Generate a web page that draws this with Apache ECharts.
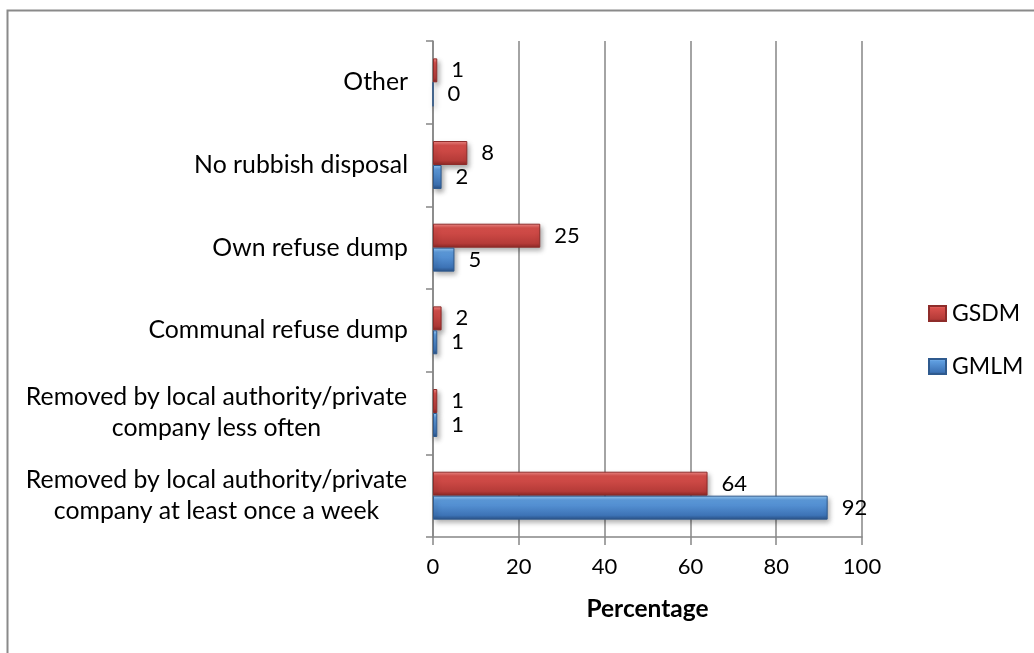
<!DOCTYPE html>
<html>
<head>
<meta charset="utf-8">
<title>Refuse disposal</title>
<script src="https://cdn.jsdelivr.net/npm/echarts@6/dist/echarts.min.js"></script>
<style>
  html, body { margin: 0; padding: 0; background: #fff; }
  #chart { width: 1034px; height: 653px; }
</style>
</head>
<body>
<div id="chart"></div>
<script>
// Categories listed bottom to top (category axis runs upward)
const categories = [
  'Removed by local authority/private\ncompany at least once a week',
  'Removed by local authority/private\ncompany less often',
  'Communal refuse dump',
  'Own refuse dump',
  'No rubbish disposal',
  'Other'
];
const gsdmValues = [64, 1, 2, 25, 8, 1];
const gmlmValues = [92, 1, 1, 5, 2, 0];
const xTicks = { min: 0, max: 100, interval: 20 };

const FONT = 'Lato, "Noto Sans", sans-serif';

function bevel(light, mid, dark, edge) {
  return new echarts.graphic.LinearGradient(0, 0, 0, 1, [
    { offset: 0, color: light },
    { offset: 0.18, color: mid },
    { offset: 0.82, color: dark },
    { offset: 1, color: edge }
  ]);
}

const chart = echarts.init(document.getElementById('chart'), null, { renderer: 'canvas' });

const labelStyle = {
  show: true,
  position: 'right',
  distance: 14,
  color: '#000',
  fontFamily: FONT,
  fontSize: 22
};

const shadow = {
  shadowColor: 'rgba(0,0,0,0.35)',
  shadowBlur: 5,
  shadowOffsetX: 2,
  shadowOffsetY: 3
};

chart.setOption({
  backgroundColor: '#fff',
  animation: false,
  graphic: [{
    type: 'rect',
    shape: { x: 7.5, y: 10.5, width: 1100, height: 700 },
    style: { fill: 'none', stroke: '#8a8a8a', lineWidth: 2 },
    silent: true
  }],
  grid: { left: 433, right: 172, top: 41, bottom: 116, containLabel: false },
  legend: {
    orient: 'vertical',
    left: 923,
    top: 297,
    itemWidth: 17,
    itemHeight: 15,
    itemGap: 30,
    icon: 'rect',
    data: ['GSDM', 'GMLM'],
    textStyle: { fontFamily: FONT, fontSize: 23, color: '#000', padding: [0, 0, 0, 1] }
  },
  xAxis: {
    type: 'value',
    min: xTicks.min,
    max: xTicks.max,
    interval: xTicks.interval,
    name: 'Percentage',
    nameLocation: 'middle',
    nameGap: 60,
    nameTextStyle: { fontFamily: FONT, fontSize: 24.5, fontWeight: 'bold', color: '#000' },
    axisLine: { show: true, lineStyle: { color: '#868686', width: 1.5 } },
    axisTick: { show: true, length: 8, lineStyle: { color: '#868686', width: 1.5 } },
    axisLabel: { margin: 19, fontFamily: FONT, fontSize: 22, color: '#000' },
    splitLine: { show: true, lineStyle: { color: '#868686', width: 1.5 } }
  },
  yAxis: {
    type: 'category',
    data: categories,
    axisLine: { show: true, lineStyle: { color: '#868686', width: 1.5 } },
    axisTick: { show: true, length: 7, lineStyle: { color: '#868686', width: 1.5 } },
    axisLabel: {
      margin: 25,
      fontFamily: FONT,
      fontSize: 24.8,
      color: '#000',
      formatter: function (v) {
        if (v.indexOf('\n') < 0) return v;
        return v.split('\n').map(function (s) { return '{c|' + s + '}'; }).join('\n');
      },
      rich: {
        c: { width: 383, align: 'center', fontFamily: FONT, fontSize: 24.8, color: '#000', lineHeight: 31 }
      }
    },
    splitLine: { show: false }
  },
  series: [
    {
      name: 'GSDM',
      type: 'bar',
      data: gsdmValues,
      barGap: '0%',
      barCategoryGap: '42%',
      itemStyle: Object.assign({
        color: bevel('#f28d8a', '#d9504c', '#b53b38', '#8c2826'),
        borderColor: '#8e2c2a',
        borderWidth: 1
      }, shadow),
      label: labelStyle
    },
    {
      name: 'GMLM',
      type: 'bar',
      data: gmlmValues,
      barGap: '0%',
      barCategoryGap: '42%',
      itemStyle: Object.assign({
        color: bevel('#9ccdf7', '#5f9ee0', '#3d73b6', '#2a5286'),
        borderColor: '#2f5a8e',
        borderWidth: 1
      }, shadow),
      label: labelStyle
    }
  ]
});
</script>
</body>
</html>
